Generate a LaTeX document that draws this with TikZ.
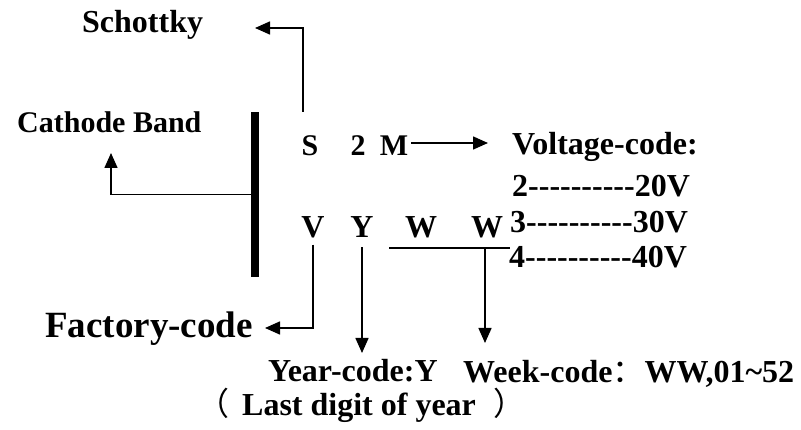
\documentclass[tikz,border=0pt]{standalone}
\usepackage{fontspec}
\setmainfont{Liberation Serif}
\newfontfamily\cjkfont{Noto Sans CJK SC}
\usetikzlibrary{arrows.meta}
\tikzset{
  lbl/.style={font=\fontsize{32}{38}\selectfont\bfseries, inner sep=0pt, anchor=base west},
  code/.style={font=\fontsize{30}{36}\selectfont\bfseries, inner sep=0pt, anchor=base},
  arr/.style={line width=1.5pt, -{Triangle[length=15pt,width=13pt]}},
  wire/.style={line width=1.5pt}
}
\begin{document}
\begin{tikzpicture}[x=1pt, y=-1pt]
    \useasboundingbox (0,0) rectangle (801,430);

    % Cathode band
    \node[fill, minimum width=8pt, minimum height=165pt, inner sep=0pt] (band) at (255,194.5) {};

    % Marking letters
    \node[code] (S) at (310,156) {S};
    \node[code] (two) at (358,156) {2};
    \node[code] (M) at (394,156) {M};
    \node[code, font=\fontsize{32}{38}\selectfont\bfseries] (V) at (313,238) {V};
    \node[code, font=\fontsize{32}{38}\selectfont\bfseries] (Y) at (362,238) {Y};
    \node[code, font=\fontsize{32}{38}\selectfont\bfseries] (W1) at (421,238) {W};
    \node[code, font=\fontsize{32}{38}\selectfont\bfseries] (W2) at (487,238) {W};

    % Labels
    \node[lbl] (schottky) at (82,33) {Schottky};
    \node[lbl, font=\fontsize{30}{36}\selectfont\bfseries] (cathode) at (17,133) {Cathode Band};
    \node[lbl] (voltage) at (512,155) {Voltage-code:};
    \node[lbl] (v2) at (512,197) {2-{}-{}-{}-{}-{}-{}-{}-{}-{}-20V};
    \node[lbl] (v3) at (510,233) {3-{}-{}-{}-{}-{}-{}-{}-{}-{}-30V};
    \node[lbl] (v4) at (509,268) {4-{}-{}-{}-{}-{}-{}-{}-{}-{}-40V};
    \node[lbl, font=\fontsize{37}{44}\selectfont\bfseries, anchor=base east] (factory) at (253,338) {Factory-code};
    \node[lbl] (year) at (268,382) {Year-code:Y};
    \node[lbl] (lastdigit) at (197,415) {{\cjkfont\mdseries （}\hspace{13pt}Last digit of year \hspace{10pt}{\cjkfont\mdseries ）}};
    \node[lbl] (week) at (463,383) {Week-code{\cjkfont\mdseries ：}WW,01\char"7E 52};

    % Connectors
    \coordinate (sUp) at (303,112);
    \draw[arr] (sUp) |- (255,28);
    \draw[arr] (band.west) -| (111,153);
    \coordinate (mOut) at (411,143);
    \draw[arr] (mOut) -- (488,143);
    \draw[arr] ([yshift=-6pt]V.south) |- (265,328);
    \draw[arr] ([yshift=-9pt]Y.south) -- (362,353);
    \coordinate (wwLeft) at (389,248);
    \coordinate (wwRight) at (510,248);
    \draw[wire] (wwLeft) -- (wwRight);
    \draw[arr] (485,248) -- (485,343);
\end{tikzpicture}
\end{document}
